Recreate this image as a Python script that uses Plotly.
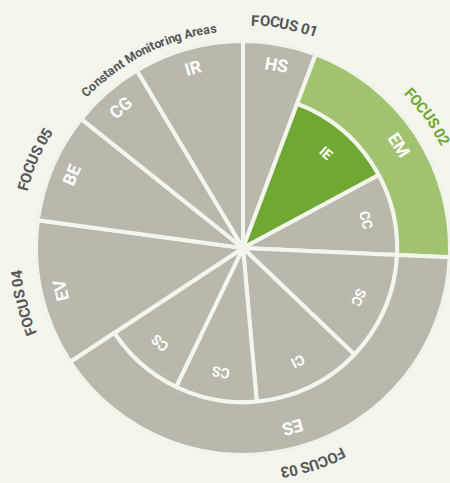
import math
import plotly.graph_objects as go

# ---------------- data ----------------
seg_labels = ["HS", "IE", "CC", "SC", "CI", "CS", "CS", "EV", "BE", "CG", "IR"]
seg_weights = [2, 4, 3, 4, 4, 3, 3, 4, 3, 2, 3]
seg_radius = [100, 74.5, 74.5, 74.5, 74.5, 74.5, 74.5, 100, 100, 100, 100]
seg_colors = ["#bab8ad", "#6fa833", "#bab8ad", "#bab8ad", "#bab8ad", "#bab8ad",
              "#bab8ad", "#bab8ad", "#bab8ad", "#bab8ad", "#bab8ad"]

ring_labels = ["EM", "ES"]
ring_first = [1, 3]        # first segment index under the ring
ring_count = [2, 4]        # number of segments under the ring
ring_base = [74.5, 74.5]
ring_top = [100, 100]
ring_colors = ["#a1c26f", "#bab8ad"]

focus_labels = ["FOCUS 01", "FOCUS 02", "FOCUS 03", "FOCUS 04", "FOCUS 05"]
focus_angles = [10.5, 54.5, 162, 256, 293]
focus_colors = ["#575757", "#6fa833", "#575757", "#575757", "#575757"]
monitor_label = "Constant Monitoring Areas"
monitor_angle = 333.5

# ---------------- geometry ----------------
W, H = 450, 483
CX, CY, RPX = 243, 248, 207
BG = "#f4f6ee"
RMAX = 100
unit = 360 / sum(seg_weights)

starts = []
acc = 0
for w in seg_weights:
    starts.append(acc * unit)
    acc += w
widths = [w * unit for w in seg_weights]
centers = [s + w / 2 for s, w in zip(starts, widths)]

ring_start = [starts[f] for f in ring_first]
ring_width = [sum(widths[f:f + c]) for f, c in zip(ring_first, ring_count)]
ring_center = [s + w / 2 for s, w in zip(ring_start, ring_width)]

fig = go.Figure()
fig.add_trace(go.Barpolar(
    theta=centers, width=widths, r=seg_radius, base=[0] * len(seg_radius),
    marker=dict(color=seg_colors, line=dict(color=BG, width=4)),
    hoverinfo="skip", showlegend=False))
fig.add_trace(go.Barpolar(
    theta=ring_center, width=ring_width,
    r=[t - b for t, b in zip(ring_top, ring_base)], base=ring_base,
    marker=dict(color=ring_colors, line=dict(color=BG, width=4)),
    hoverinfo="skip", showlegend=False))

scale = RPX / RMAX


def paper(theta, r):
    t = math.radians(theta)
    xp = CX + r * scale * math.sin(t)
    yp = CY - r * scale * math.cos(t)
    return xp / W, 1 - yp / H


anns = []


def add(text, theta, r, size, color, angle=None):
    x, y = paper(theta, r)
    anns.append(dict(x=x, y=y, xref="paper", yref="paper", text=text,
                     showarrow=False, xanchor="center", yanchor="middle",
                     textangle=theta if angle is None else angle,
                     font=dict(family="Roboto", size=size, color=color, weight="bold")))


for lab, c, rr in zip(seg_labels, centers, seg_radius):
    if rr >= RMAX:
        add(lab, c, 90, 17.5, "white")
    else:
        add(lab, c, 61, 14, "white")
for lab, c in zip(ring_labels, ring_center):
    add(lab, c, 90, 17.5, "white")

# curved text, one character at a time
cw = {"C": .65, "o": .57, "n": .56, "s": .53, "t": .34, "a": .54, " ": .25,
      "M": .88, "i": .25, "r": .35, "g": .57, "A": .66, "e": .54,
      "F": .57, "O": .69, "U": .64, "S": .60}


def curved(text, center_angle, rr, fs, color):
    ws = [cw.get(ch, .56) * fs for ch in text]
    L = sum(ws)
    pos = 0
    for ch, w in zip(text, ws):
        off = pos + w / 2 - L / 2
        ang = center_angle + math.degrees(off / (rr * scale))
        if ch != " ":
            add(ch, ang, rr, fs, color)
        pos += w


for lab, a, col in zip(focus_labels, focus_angles, focus_colors):
    curved(lab, a, 110, 15, col)

curved(monitor_label, monitor_angle, 107, 12.5, "#575757")

fig.update_layout(
    width=W, height=H, margin=dict(l=0, r=0, t=0, b=0),
    paper_bgcolor=BG, plot_bgcolor=BG,
    annotations=anns,
    polar=dict(
        domain=dict(x=[(CX - RPX) / W, min(1, (CX + RPX) / W)],
                    y=[(H - CY - RPX) / H, (H - CY + RPX) / H]),
        bgcolor=BG, bargap=0, barmode="overlay",
        radialaxis=dict(visible=False, range=[0, RMAX]),
        angularaxis=dict(visible=False, direction="clockwise", rotation=90,
                         showgrid=False, showline=False, ticks=""),
    ),
)

fig.write_html("out.html", config={"displayModeBar": False},
               post_script="document.body.style.margin='0';"
                           "document.body.style.background='" + BG + "';")
